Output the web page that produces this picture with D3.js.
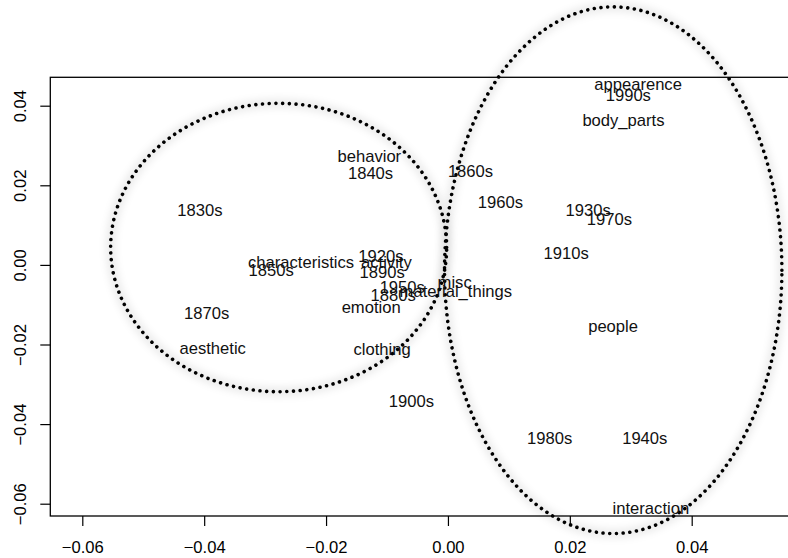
<!DOCTYPE html>
<html>
<head>
<meta charset="utf-8">
<script src="https://cdn.jsdelivr.net/npm/d3@7"></script>
<style>
  body { margin: 0; background: #fff; }
  text { font-family: "Liberation Sans", Arial, Helvetica, sans-serif; }
</style>
</head>
<body>
<div id="chart"></div>
<script>
// --- Data ---
const labels = ["appearence", "1990s", "body_parts", "behavior", "1840s", "1860s", "1960s",
  "1830s", "1930s", "1970s", "1910s", "1920s", "characteristics", "activity", "1850s", "1890s",
  "misc", "1950s", "material_things", "1880s", "emotion", "1870s", "people", "aesthetic",
  "clothing", "1900s", "1980s", "1940s", "interaction"];
const xs = [0.0312, 0.0296, 0.0288, -0.0129, -0.0127, 0.0037, 0.0086,
  -0.0407, 0.0230, 0.0265, 0.0194, -0.0110, -0.0241, -0.0101, -0.0290, -0.0108,
  0.0011, -0.0075, 0.0013, -0.0090, -0.0126, -0.0396, 0.0271, -0.0386,
  -0.0108, -0.0060, 0.0167, 0.0323, 0.0333];
const ys = [0.0455, 0.0426, 0.0364, 0.0274, 0.0231, 0.0235, 0.0159,
  0.0137, 0.0139, 0.0115, 0.0029, 0.0022, 0.0008, 0.0008, -0.0013, -0.0018,
  -0.0042, -0.0055, -0.0066, -0.0076, -0.0106, -0.0120, -0.0154, -0.0210,
  -0.0211, -0.0341, -0.0435, -0.0436, -0.0611];

// cluster ellipses: centre x, centre y, radius x, radius y (data units)
const ellCx = [-0.02778, 0.02712];
const ellCy = [0.00437, -0.00133];
const ellRx = [0.02757, 0.02768];
const ellRy = [0.03623, 0.06616];

const xTicks = [-0.06, -0.04, -0.02, 0.00, 0.02, 0.04];
const yTicks = [-0.06, -0.04, -0.02, 0.00, 0.02, 0.04];

// --- Layout ---
const W = 788, H = 558;
const boxL = 50.3, boxT = 77.3, boxB = 516, boxR = 792;
const fs = 16.6;

const x = d3.scaleLinear().domain([-0.06, 0.04]).range([82.3, 691.7]);
const y = d3.scaleLinear().domain([-0.06, 0.04]).range([503.7, 105.7]);

const svg = d3.select("#chart").append("svg")
  .attr("width", W).attr("height", H);

svg.append("defs").append("filter").attr("id", "halo")
  .attr("x", "-20%").attr("y", "-20%").attr("width", "140%").attr("height", "140%")
  .append("feGaussianBlur").attr("stdDeviation", 3.5);

// --- Box ---
svg.append("rect")
  .attr("x", boxL).attr("y", boxT)
  .attr("width", boxR - boxL).attr("height", boxB - boxT)
  .attr("fill", "none").attr("stroke", "#000").attr("stroke-width", 1.3);

// --- Axes ---
const xAxis = svg.append("g").attr("transform", `translate(0,${boxB})`)
  .call(d3.axisBottom(x).tickValues(xTicks).tickSize(10).tickFormat(d3.format(".2f")));
const yAxis = svg.append("g").attr("transform", `translate(${boxL},0)`)
  .call(d3.axisLeft(y).tickValues(yTicks).tickSize(10).tickFormat(d3.format(".2f")));
[xAxis, yAxis].forEach(g => {
  g.select(".domain").remove();
  g.selectAll("line").attr("stroke", "#000").attr("stroke-width", 1.2);
  g.selectAll("text").attr("fill", "#000").style("font-size", fs + "px")
    .style("font-family", '"Liberation Sans", Arial, sans-serif');
});
xAxis.selectAll("text").attr("dy", "0.36em").attr("y", 31.5);
yAxis.selectAll("text")
  .attr("x", 0).attr("y", 0).attr("dy", "0.36em")
  .attr("text-anchor", "middle")
  .attr("transform", `translate(${20 - boxL},0) rotate(-90)`);

// --- Ellipses ---
const thetas = d3.range(0, 361, 1).map(a => a * Math.PI / 180);
const line = d3.line().x(p => x(p[0])).y(p => y(p[1]));
ellCx.forEach((cx, i) => {
  const pts = thetas.map(t => [cx + ellRx[i] * Math.cos(t), ellCy[i] + ellRy[i] * Math.sin(t)]);
  svg.append("path").attr("d", line(pts))
    .attr("fill", "none").attr("stroke", "#000").attr("stroke-opacity", 0.07)
    .attr("stroke-width", 10).attr("filter", "url(#halo)");
  svg.append("path").attr("d", line(pts))
    .attr("fill", "none").attr("stroke", "#000")
    .attr("stroke-width", 3.6).attr("stroke-linecap", "round")
    .attr("stroke-dasharray", "0.01 6.7");
});

// --- Labels ---
svg.append("g").selectAll("text").data(labels).join("text")
  .attr("x", (d, i) => x(xs[i]))
  .attr("y", (d, i) => y(ys[i]))
  .attr("dy", "0.36em")
  .attr("text-anchor", "middle")
  .attr("fill", "#111")
  .style("font-size", fs + "px")
  .text(d => d);
</script>
</body>
</html>
